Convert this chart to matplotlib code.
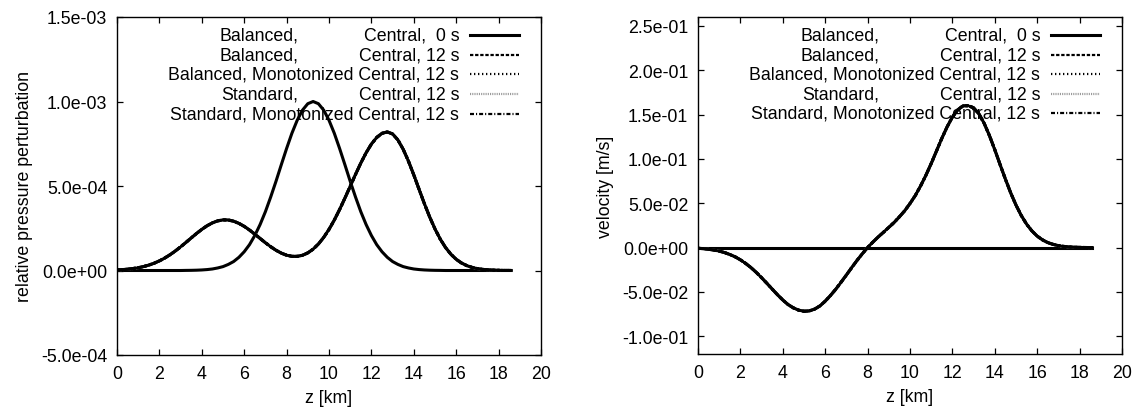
import matplotlib
matplotlib.use("Agg")
import matplotlib.pyplot as plt
from matplotlib.lines import Line2D

plt.rcParams['font.family'] = ['Liberation Sans', 'DejaVu Sans']
plt.rcParams['font.size'] = 12.8

# height z [km], sampled every 0.25 km up to the top of the domain
z_km = [0.0, 0.25, 0.5, 0.75, 1.0, 1.25, 1.5, 1.75, 2.0, 2.25, 2.5, 2.75,
        3.0, 3.25, 3.5, 3.75, 4.0, 4.25, 4.5, 4.75, 5.0, 5.25, 5.5, 5.75,
        6.0, 6.25, 6.5, 6.75, 7.0, 7.25, 7.5, 7.75, 8.0, 8.25, 8.5, 8.75,
        9.0, 9.25, 9.5, 9.75, 10.0, 10.25, 10.5, 10.75, 11.0, 11.25, 11.5, 11.75,
        12.0, 12.25, 12.5, 12.75, 13.0, 13.25, 13.5, 13.75, 14.0, 14.25, 14.5, 14.75,
        15.0, 15.25, 15.5, 15.75, 16.0, 16.25, 16.5, 16.75, 17.0, 17.25, 17.5, 17.75,
        18.0, 18.25, 18.5, 18.6]

# relative pressure perturbation, in units of 1e-4
p_0s = [0, 0, 0, 0, 0, 0, 0, 0, 0, 0, 0, 0,
        0, 0.006, 0.01, 0.018, 0.032, 0.055, 0.09, 0.15, 0.23, 0.36, 0.53, 0.78,
        1.11, 1.53, 2.07, 2.72, 3.48, 4.35, 5.28, 6.26, 7.22, 8.12, 8.89, 9.49,
        9.87, 10.0, 9.87, 9.49, 8.89, 8.12, 7.22, 6.26, 5.28, 4.35, 3.48, 2.72,
        2.07, 1.53, 1.11, 0.78, 0.53, 0.36, 0.23, 0.15, 0.09, 0.055, 0.032, 0.018,
        0.01, 0.006, 0, 0, 0, 0, 0, 0, 0, 0, 0, 0,
        0, 0, 0, 0]
p_12s = [0.033, 0.051, 0.077, 0.114, 0.164, 0.231, 0.319, 0.430, 0.569, 0.736, 0.931, 1.154,
         1.399, 1.659, 1.926, 2.189, 2.433, 2.648, 2.819, 2.937, 2.995, 2.988, 2.918, 2.789,
         2.613, 2.395, 2.151, 1.896, 1.643, 1.407, 1.198, 1.028, 0.906, 0.840, 0.836, 0.901,
         1.042, 1.262, 1.567, 1.958, 2.432, 2.985, 3.607, 4.280, 4.980, 5.684, 6.355, 6.965,
         7.481, 7.872, 8.116, 8.200, 8.079, 7.726, 7.172, 6.462, 5.653, 4.800, 3.955, 3.164,
         2.457, 1.852, 1.355, 0.962, 0.663, 0.444, 0.288, 0.182, 0.111, 0.066, 0.038, 0.021,
         0.011, 0.006, 0.003, 0.002]

# velocity [m/s]
z_vel_0s = [0.0, 18.6]
v_0s = [0.0, 0.0]
v_12s = [-0.0008, -0.0012, -0.0019, -0.0028, -0.0040, -0.0056, -0.0078, -0.0104,
         -0.0138, -0.0179, -0.0226, -0.0280, -0.0340, -0.0403, -0.0468, -0.0532,
         -0.0591, -0.0643, -0.0680, -0.0706, -0.0718, -0.0714, -0.0694, -0.0658,
         -0.0604, -0.0540, -0.0469, -0.0390, -0.0309, -0.0226, -0.0145, -0.0070,
         0.0001, 0.0062, 0.0120, 0.0173, 0.0228, 0.0283, 0.0347, 0.0415,
         0.0497, 0.0587, 0.0695, 0.0815, 0.0948, 0.1089, 0.1231, 0.1361,
         0.1472, 0.1553, 0.1598, 0.1600, 0.1576, 0.1508, 0.1400, 0.1261,
         0.1103, 0.0936, 0.0772, 0.0617, 0.0479, 0.0361, 0.0264, 0.0188,
         0.0129, 0.0087, 0.0056, 0.0036, 0.0022, 0.0013, 0.0007, 0.0004,
         0.0002, 0.0001, 0.0, 0.0]

labels = [("Balanced,", "Central,  0 s"),
          ("Balanced,", "Central, 12 s"),
          ("Balanced, Monotonized", "Central, 12 s"),
          ("Standard,", "Central, 12 s"),
          ("Standard, Monotonized", "Central, 12 s")]

styles = [dict(color='black', linestyle='-', linewidth=2.2),
          dict(color='black', linestyle=(0, (1.5, 0.8)), linewidth=1.6),
          dict(color='black', linestyle=(0, (0.6, 1.2)), linewidth=1.6),
          dict(color='#9a9a9a', linestyle=(0, (0.5, 0.5)), linewidth=1.6),
          dict(color='black', linestyle=(0, (1.8, 0.9, 0.5, 0.9)), linewidth=1.6)]


def draw_key(ax):
    # gnuplot style key: right aligned text, sample line on the right
    for i, (first, second) in enumerate(labels):
        y = 0.946 - i * 0.058
        if "Monotonized" in first:
            ax.text(0.807, y, first + " " + second, transform=ax.transAxes,
                    ha='right', va='center')
        else:
            ax.text(0.427, y, first, transform=ax.transAxes, ha='right', va='center')
            ax.text(0.807, y, second, transform=ax.transAxes, ha='right', va='center')
        ax.add_line(Line2D([0.832, 0.948], [y, y], transform=ax.transAxes, **styles[i]))


def style_axes(ax):
    ax.set_xlim(0, 20)
    ax.set_xticks(range(0, 21, 2))
    ax.tick_params(direction='in', top=True, right=True, length=4, width=0.9, pad=7)
    for s in ax.spines.values():
        s.set_linewidth(1.0)
    ax.set_xlabel('z [km]', labelpad=5)
    ax.yaxis.set_major_formatter(plt.FuncFormatter(lambda v, pos: '%.1e' % v))


fig = plt.figure(figsize=(11.4, 4.1), dpi=100)
ax1 = fig.add_axes([117 / 1140, 54 / 410, 424 / 1140, 338 / 410])
ax2 = fig.add_axes([698 / 1140, 55 / 410, 424 / 1140, 337 / 410])

p0 = [v * 1e-4 for v in p_0s]
p12 = [v * 1e-4 for v in p_12s]

# the four 12 s runs lie on top of each other; gray one underneath,
# round dash caps so the overlap reads as one solid curve
draw_order = [3, 1, 2, 4]

ax1.plot(z_km, p0, **styles[0])
for k in draw_order:
    ax1.plot(z_km, p12, dash_capstyle='round', **dict(styles[k], linewidth=2.2))
ax1.set_ylim(-5e-4, 1.5e-3)
ax1.set_yticks([-5e-4, 0, 5e-4, 1e-3, 1.5e-3])
ax1.set_ylabel('relative pressure perturbation', labelpad=6)
style_axes(ax1)
draw_key(ax1)

ax2.plot(z_vel_0s, v_0s, **styles[0])
for k in draw_order:
    ax2.plot(z_km, v_12s, dash_capstyle='round', **dict(styles[k], linewidth=2.2))
ax2.set_ylim(-0.12, 0.26)
ax2.set_yticks([-0.1, -0.05, 0, 0.05, 0.1, 0.15, 0.2, 0.25])
ax2.set_ylabel('velocity [m/s]', labelpad=6)
style_axes(ax2)
draw_key(ax2)

fig.savefig('out.png', dpi=100)
